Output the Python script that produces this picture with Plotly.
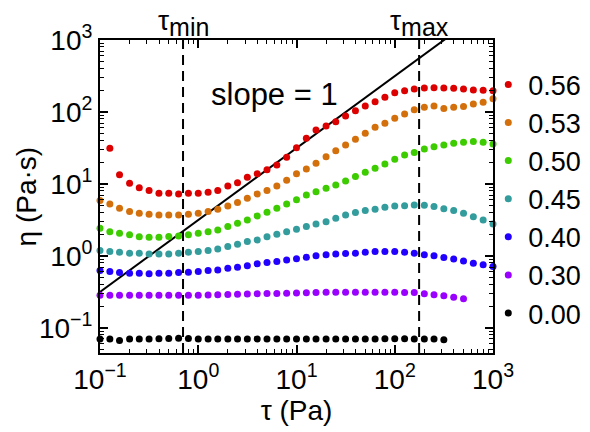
import plotly.graph_objects as go
import numpy as np

# shear stress grid (Pa)
tau = [0.1, 0.126, 0.158, 0.2, 0.251, 0.316, 0.398, 0.501, 0.631, 0.794,
       1.0, 1.26, 1.58, 2.0, 2.51, 3.16, 3.98, 5.01, 6.31, 7.94,
       10.0, 12.6, 15.8, 20.0, 25.1, 31.6, 39.8, 50.1, 63.1, 79.4,
       100.0, 126.0, 158.0, 200.0, 251.0, 316.0, 398.0, 501.0, 631.0, 794.0, 1000.0]

labels = ["0.56", "0.53", "0.50", "0.45", "0.40", "0.30", "0.00"]
colors = ["#dd0000", "#d4700c", "#3ccc00", "#339c9c", "#2200ff", "#9900ff", "#000000"]

eta_056 = [None, 31.3, 13.4, 10.2, 8.85, 8.07, 7.44, 7.44, 7.26, 7.43,
           7.43, 7.67, 8.07, 9.38, 10.4, 12.4, 13.8, 15.7, 18.3, 23.5,
           31.9, 43.2, 56.2, 63.8, 73.3, 87.9, 104, 121, 139, 160,
           185, 197, 209, 215, 217, 215, 213, 209, 202, 200, 197]
eta_053 = [5.86, 5.27, 4.59, 4.12, 3.92, 3.80, 3.71, 3.71, 3.71, 3.80,
           3.92, 4.12, 4.44, 4.94, 5.50, 6.32, 7.26, 8.07, 9.38, 11.2,
           13.8, 16.1, 19.4, 23.9, 28.9, 34.8, 41.8, 50.5, 61.2, 69.6,
           81.7, 93.8, 107, 116, 121, 112, 116, 119, 129, 136, 153]
eta_050 = [2.42, 2.17, 2.06, 1.96, 1.85, 1.82, 1.82, 1.86, 1.89, 1.96,
           2.06, 2.17, 2.29, 2.55, 2.84, 3.16, 3.59, 4.04, 4.59, 5.27,
           6.00, 7.03, 7.81, 8.71, 9.65, 11.0, 12.7, 14.5, 16.5, 18.9,
           22.0, 25.3, 27.3, 30.6, 32.9, 34.8, 36.7, 38.0, 38.7, 38.0, 35.9]
eta_045 = [1.19, 1.15, 1.12, 1.09, 1.09, 1.06, 1.06, 1.06, 1.09, 1.12,
           1.15, 1.19, 1.25, 1.35, 1.45, 1.58, 1.66, 1.85, 2.00, 2.17,
           2.35, 2.55, 2.78, 2.99, 3.34, 3.71, 3.99, 4.26, 4.44, 4.74,
           4.94, 4.99, 5.11, 5.05, 4.84, 4.50, 4.26, 3.92, 3.51, 3.16, 2.78]
eta_040 = [0.625, 0.605, 0.586, 0.574, 0.574, 0.562, 0.574, 0.574, 0.586, 0.593,
           0.605, 0.625, 0.638, 0.674, 0.696, 0.726, 0.774, 0.807, 0.834, 0.879,
           0.912, 0.956, 1.00, 1.04, 1.06, 1.08, 1.09, 1.12, 1.15, 1.15,
           1.15, 1.12, 1.09, 1.04, 1.00, 0.947, 0.903, 0.851, 0.790, 0.750, 0.710]
eta_030 = [0.283, 0.283, 0.283, 0.283, 0.283, 0.283, 0.283, 0.283, 0.283, 0.283,
           0.283, 0.285, 0.287, 0.290, 0.292, 0.295, 0.297, 0.299, 0.301, 0.303,
           0.305, 0.307, 0.309, 0.311, 0.311, 0.311, 0.311, 0.311, 0.311, 0.311,
           0.311, 0.310, 0.309, 0.297, 0.287, 0.278, 0.267, 0.253]
eta_000 = [0.0697, 0.0697, 0.0665, 0.0697, 0.0697, 0.0700, 0.0705, 0.0710, 0.0715, 0.0712,
           0.0700, 0.0700, 0.0700, 0.0700, 0.0700, 0.0700, 0.0700, 0.0700, 0.0700, 0.0700,
           0.0700, 0.0700, 0.0700, 0.0700, 0.0700, 0.0700, 0.0700, 0.0700, 0.0700, 0.0705,
           0.0705, 0.0705, 0.0700, 0.0700, 0.0697, 0.0680]
series = [eta_056, eta_053, eta_050, eta_045, eta_040, eta_030, eta_000]

# slope = 1 guide line and characteristic stresses
slope_tau = [0.1, 1000.0]
slope_eta = [0.315, 3150.0]
tau_min = 0.7
tau_max = 177.0

tick_vals = [0.1, 1, 10, 100, 1000]
x_tick_text = ["10<sup>−1</sup>", "10<sup>0</sup>", "10<sup>1</sup>", "10<sup>2</sup>", "10<sup>3</sup>"]
y_tick_text = ["10<sup>−1</sup>", "10<sup>0</sup>", "10<sup>1</sup>", "10<sup>2</sup>", "10<sup>3</sup>"]
minor_x = [m * d for d in (0.1, 1, 10, 100) for m in range(2, 10)]
minor_y = [m * d for d in (0.01, 0.1, 1, 10, 100) for m in range(2, 10) if m * d > 0.045]

FONT = "Liberation Sans, Arial, Helvetica, sans-serif"

fig = go.Figure()
fig.add_trace(go.Scatter(x=slope_tau, y=slope_eta, mode="lines",
                         line=dict(color="black", width=2), showlegend=False,
                         hoverinfo="skip"))
for lab, col, eta in zip(labels, colors, series):
    fig.add_trace(go.Scatter(x=tau[:len(eta)], y=eta, mode="markers", name=lab,
                             marker=dict(color=col, size=7, line=dict(width=0)),
                             cliponaxis=False))

for t in (tau_min, tau_max):
    fig.add_shape(type="line", xref="x", yref="paper", x0=t, x1=t, y0=0, y1=1,
                  line=dict(color="black", width=2, dash="10px,6px"))

for t, sub in ((tau_min, "min"), (tau_max, "max")):
    fig.add_annotation(x=np.log10(t), y=1, xref="x", yref="paper",
                       text="τ<sub><span style='font-size:25px'>" + sub + "</span></sub>",
                       showarrow=False, yanchor="bottom", yshift=-3,
                       font=dict(size=28, color="black", family=FONT))
fig.add_annotation(x=0.445, y=0.826, xref="paper", yref="paper", text="slope = 1",
                   showarrow=False, yanchor="middle",
                   font=dict(size=31, color="black", family=FONT))
# y-axis title placed as in the reference
fig.add_annotation(x=-0.186, y=0.5, xref="paper", yref="paper", text="η (Pa·s)",
                   textangle=-90, showarrow=False, xanchor="center", yanchor="middle",
                   font=dict(size=28, color="black", family=FONT))

axis_common = dict(type="log", showline=True, linecolor="black", linewidth=2,
                   mirror="allticks", ticks="inside", ticklen=8, tickwidth=1.5,
                   tickcolor="black", showgrid=False, zeroline=False, automargin=False,
                   tickfont=dict(size=28, color="black", family=FONT))

fig.update_xaxes(range=[-1, 3], tickmode="array", tickvals=tick_vals, ticktext=x_tick_text,
                 title=dict(text="τ (Pa)", font=dict(size=28, color="black", family=FONT),
                            standoff=2),
                 minor=dict(tickmode="array", tickvals=minor_x, ticks="inside", ticklen=4,
                            tickwidth=1, tickcolor="black", showgrid=False),
                 **axis_common)
fig.update_yaxes(range=[-1.35, 3], tickmode="array", tickvals=tick_vals, ticktext=y_tick_text,
                 minor=dict(tickmode="array", tickvals=minor_y, ticks="inside", ticklen=4,
                            tickwidth=1, tickcolor="black", showgrid=False),
                 **axis_common)

# the page body keeps its default 8px margin, so the figure is 16px smaller
fig.update_layout(
    width=582, height=424,
    margin=dict(l=92, r=97, t=32, b=79, autoexpand=False),
    paper_bgcolor="white", plot_bgcolor="white",
    font=dict(family=FONT, color="black"),
    legend=dict(x=0.988, y=0.935, xanchor="left", yanchor="top",
                font=dict(size=27, color="black", family=FONT),
                bgcolor="rgba(0,0,0,0)", borderwidth=0, tracegroupgap=0,
                itemwidth=30),
)

fig.write_html("out.html")
